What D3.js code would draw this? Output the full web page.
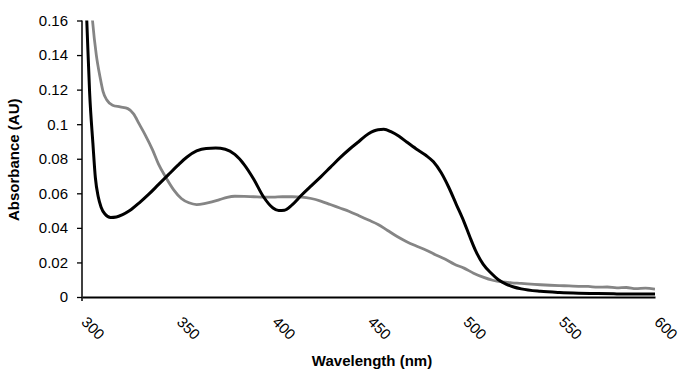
<!DOCTYPE html>
<html>
<head>
<meta charset="utf-8">
<script src="https://cdn.jsdelivr.net/npm/d3@7"></script>
<style>
  body { margin: 0; background: #fff; }
  text { font-family: "Liberation Sans", Arial, sans-serif; fill: #000; }
</style>
</head>
<body>
<div class="chart"></div>
<script>
// wavelength (nm) / absorbance (AU)
const blackNm = [300, 301, 302.5, 304, 305.7, 307, 308.5, 310, 312, 315, 318, 321, 325, 330, 335, 340, 345, 350, 355, 360, 365, 370, 375, 380, 385, 390, 395, 400, 403, 406, 410, 415, 420, 425, 430, 435, 440, 445, 450, 455, 458, 462, 466, 470, 475, 480, 484, 488, 492, 496, 500, 503, 506, 510, 514, 518, 522, 526, 530, 540, 550, 560, 570, 580, 590, 600];
const blackAbs = [0.25, 0.20, 0.16, 0.118, 0.089, 0.069, 0.058, 0.052, 0.048, 0.046, 0.0463, 0.0475, 0.050, 0.0545, 0.0595, 0.065, 0.0705, 0.076, 0.081, 0.0845, 0.086, 0.0862, 0.0855, 0.0825, 0.0765, 0.068, 0.058, 0.0515, 0.050, 0.0502, 0.0533, 0.059, 0.0643, 0.0695, 0.075, 0.0805, 0.0855, 0.090, 0.0945, 0.0968, 0.097, 0.0955, 0.093, 0.0897, 0.0857, 0.082, 0.0782, 0.072, 0.0635, 0.0535, 0.0435, 0.035, 0.027, 0.019, 0.014, 0.010, 0.0075, 0.0058, 0.0047, 0.0033, 0.0026, 0.0022, 0.0020, 0.0018, 0.0017, 0.0017];

const grayNm = [300, 303, 305.5, 307.5, 309.5, 311, 313, 316, 320, 324, 327, 330, 333, 337, 340, 344, 348, 352, 356, 360, 364, 368, 372, 376, 380, 385, 390, 395, 400, 405, 410, 415, 420, 425, 430, 435, 440, 445, 450, 455, 460, 465, 470, 475, 480, 485, 490, 495, 500, 505, 510, 515, 520, 525, 530, 535, 540, 545, 550, 555, 560, 565, 570, 575, 580, 585, 590, 595, 600];
const grayAbs = [0.30, 0.20, 0.16, 0.14, 0.127, 0.119, 0.114, 0.111, 0.110, 0.109, 0.106, 0.100, 0.094, 0.085, 0.077, 0.069, 0.062, 0.057, 0.0545, 0.0535, 0.054, 0.055, 0.0563, 0.0577, 0.0583, 0.0582, 0.058, 0.0578, 0.0578, 0.058, 0.058, 0.0578, 0.057, 0.0555, 0.0535, 0.0515, 0.0495, 0.047, 0.0445, 0.042, 0.0385, 0.035, 0.032, 0.0295, 0.0272, 0.0245, 0.022, 0.019, 0.0167, 0.0138, 0.0115, 0.0097, 0.0087, 0.0082, 0.0079, 0.0075, 0.0071, 0.0068, 0.0066, 0.0064, 0.0062, 0.0061, 0.0057, 0.0058, 0.0053, 0.0055, 0.0049, 0.0051, 0.0046];

const xTicks = [300, 350, 400, 450, 500, 550, 600];
const yTicks = [0, 0.02, 0.04, 0.06, 0.08, 0.1, 0.12, 0.14, 0.16];
const yTickLabels = ['0', '0.02', '0.04', '0.06', '0.08', '0.1', '0.12', '0.14', '0.16'];

const margin = { top: 20.5, right: 26, bottom: 72, left: 82 };
const width = 681 - margin.left - margin.right;
const height = 369 - margin.top - margin.bottom;

const svg = d3.select('.chart')
  .append('svg')
  .attr('width', 681)
  .attr('height', 369);

const g = svg.append('g')
  .attr('transform', `translate(${margin.left},${margin.top})`);

const x = d3.scaleLinear().domain([300, 600]).range([0, width]);
const y = d3.scaleLinear().domain([0, 0.16]).range([height, 0]);

// clip the curves at the top of the plot
g.append('clipPath').attr('id', 'plot')
  .append('rect')
  .attr('x', 0).attr('y', 0)
  .attr('width', width).attr('height', height);

const line = d3.line()
  .x(d => x(d[0]))
  .y(d => y(d[1]))
  .curve(d3.curveMonotoneX);

const grayData = grayNm.map((v, i) => [v, grayAbs[i]]);
const blackData = blackNm.map((v, i) => [v, blackAbs[i]]);

g.append('path')
  .datum(grayData)
  .attr('clip-path', 'url(#plot)')
  .attr('fill', 'none')
  .attr('stroke', '#858585')
  .attr('stroke-width', 2.8)
  .attr('d', line);

g.append('path')
  .datum(blackData)
  .attr('clip-path', 'url(#plot)')
  .attr('fill', 'none')
  .attr('stroke', '#000')
  .attr('stroke-width', 3)
  .attr('d', line);

// y axis
const yAxis = g.append('g')
  .call(d3.axisLeft(y)
    .tickValues(yTicks)
    .tickFormat((d, i) => yTickLabels[i])
    .tickSize(5)
    .tickPadding(9));
yAxis.select('.domain').attr('stroke', '#000').attr('stroke-width', 1.5)
  .attr('d', `M0,0V${height + 4}`);
yAxis.selectAll('.tick line').attr('stroke', '#000').attr('stroke-width', 1.3);
yAxis.selectAll('text').style('font-size', '15px').attr('fill', '#000');

// x axis
const xAxis = g.append('g')
  .attr('transform', `translate(0,${height})`)
  .call(d3.axisBottom(x).tickValues(xTicks).tickSize(0).tickFormat(d3.format('d')));
xAxis.select('.domain').attr('stroke', '#000').attr('stroke-width', 2);
xAxis.selectAll('text')
  .style('font-size', '15px')
  .attr('fill', '#000')
  .attr('text-anchor', 'start')
  .attr('y', 0)
  .attr('dy', 0)
  .attr('transform', 'translate(-2,26) rotate(45)');

// axis titles
svg.append('text')
  .text('Absorbance (AU)')
  .attr('transform', `translate(19,${margin.top + height / 2 + 1}) rotate(-90)`)
  .attr('text-anchor', 'middle')
  .style('font-size', '15px')
  .style('font-weight', 'bold');

svg.append('text')
  .text('Wavelength (nm)')
  .attr('x', 372)
  .attr('y', 366)
  .attr('text-anchor', 'middle')
  .style('font-size', '15px')
  .style('font-weight', 'bold');
</script>
</body>
</html>
